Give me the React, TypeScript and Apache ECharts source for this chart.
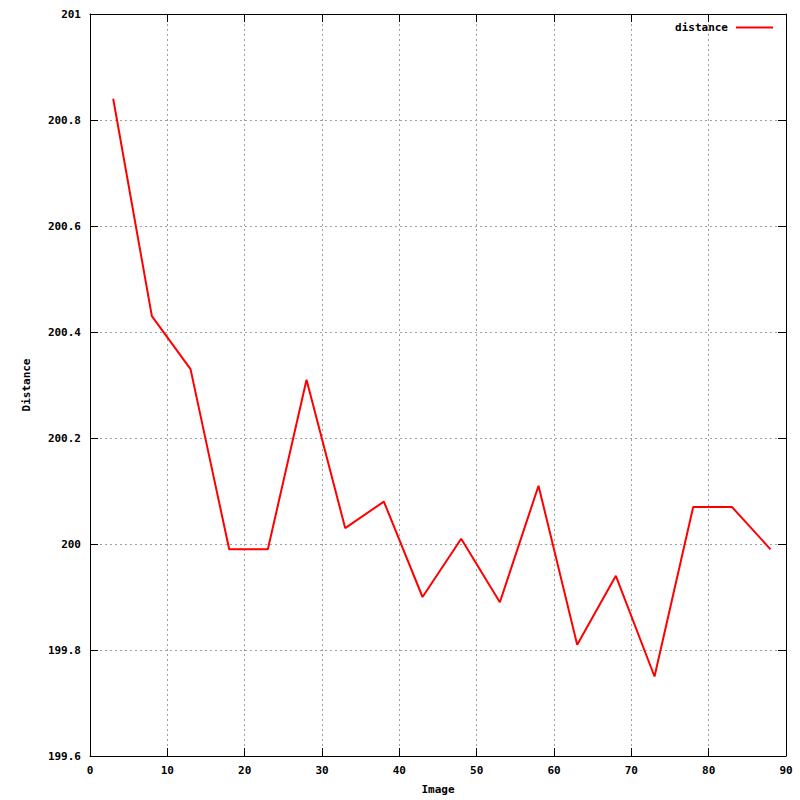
import React, { useEffect, useRef } from "react";
import * as echarts from "echarts";

const images = [3, 8, 13, 18, 23, 28, 33, 38, 43, 48, 53, 58, 63, 68, 73, 78, 83, 88];
const distances = [200.84, 200.43, 200.33, 199.99, 199.99, 200.31, 200.03, 200.08, 199.9, 200.01, 199.89, 200.11, 199.81, 199.94, 199.75, 200.07, 200.07, 199.99];
const seriesName = "distance";

export default function App() {
  const ref = useRef<HTMLDivElement>(null);
  useEffect(() => {
    document.body.style.margin = "0";
    const chart = echarts.init(ref.current!, undefined, { renderer: "svg" });
    const font = "DejaVu Sans Mono";
    const labelStyle = { fontFamily: font, fontWeight: "bold" as const, fontSize: 11, color: "#000" };
    const lineStyle = { color: "#000", width: 1 };
    const gridLine = { show: true, lineStyle: { color: "#a0a0a0", type: [2, 3] as any, width: 1 } };
    chart.setOption({
      animation: false,
      backgroundColor: "#fff",
      grid: { left: 90, right: 14, top: 14, bottom: 42, containLabel: false },
      legend: {
        data: [seriesName],
        right: 22,
        top: 17,
        align: "right",
        icon: "rect",
        itemWidth: 37,
        itemHeight: 2,
        itemGap: 5,
        textStyle: { ...labelStyle, padding: [0, 3, 0, 0] },
      },
      xAxis: [
        {
          type: "value",
          min: 0,
          max: 90,
          interval: 10,
          name: "Image",
          nameLocation: "middle",
          nameGap: 28,
          nameTextStyle: labelStyle,
          axisLine: { show: true, onZero: false, lineStyle },
          axisTick: { show: true, inside: true, length: 8, lineStyle },
          axisLabel: { ...labelStyle, margin: 9 },
          splitLine: gridLine,
        },
        {
          type: "value",
          position: "top",
          min: 0,
          max: 90,
          interval: 10,
          axisLine: { show: true, onZero: false, lineStyle },
          axisTick: { show: true, inside: true, length: 8, lineStyle },
          axisLabel: { show: false },
          splitLine: { show: false },
        },
      ],
      yAxis: [
        {
          type: "value",
          min: 199.6,
          max: 201,
          interval: 0.2,
          name: "Distance",
          nameLocation: "middle",
          nameGap: 58,
          nameRotate: 90,
          nameTextStyle: labelStyle,
          axisLine: { show: true, onZero: false, lineStyle },
          axisTick: { show: true, inside: true, length: 8, lineStyle },
          axisLabel: {
            ...labelStyle,
            margin: 9,
            formatter: (v: number) => String(Math.round(v * 10) / 10),
          },
          splitLine: gridLine,
        },
        {
          type: "value",
          position: "right",
          min: 199.6,
          max: 201,
          interval: 0.2,
          axisLine: { show: true, onZero: false, lineStyle },
          axisTick: { show: true, inside: true, length: 8, lineStyle },
          axisLabel: { show: false },
          splitLine: { show: false },
        },
      ],
      series: [
        {
          name: seriesName,
          type: "line",
          symbol: "none",
          color: "#ff0000",
          lineStyle: { color: "#ff0000", width: 2 },
          data: images.map((x, i) => [x, distances[i]]),
        },
      ],
    });
    return () => chart.dispose();
  }, []);
  return <div ref={ref} style={{ width: 800, height: 800 }} />;
}
